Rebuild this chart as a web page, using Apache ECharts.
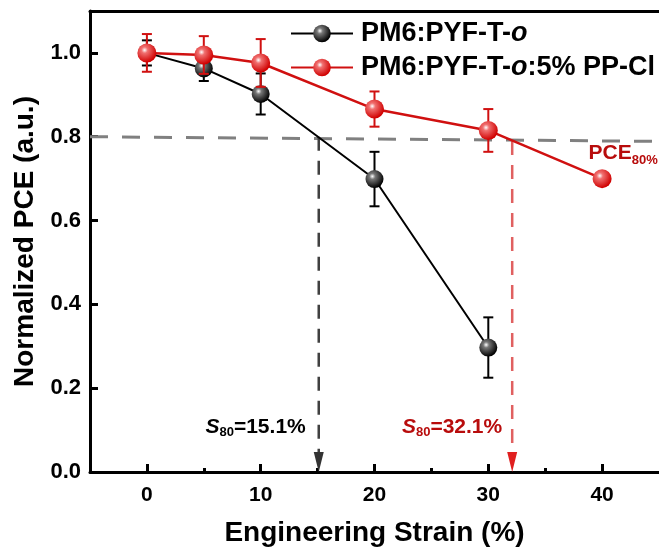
<!DOCTYPE html>
<html>
<head>
<meta charset="utf-8">
<script src="https://cdn.jsdelivr.net/npm/echarts@6/dist/echarts.min.js"></script>
<style>
html,body{margin:0;padding:0;background:#fff;}
#chart{width:659px;height:552px;}
</style>
</head>
<body>
<div id="chart"></div>
<script>
// ---- data ----
const strain = [0, 5, 10, 20, 30];
const blackY = [1.0, 0.963, 0.902, 0.699, 0.297];
const blackErr = [0.03, 0.03, 0.049, 0.065, 0.072];
const strainRed = [0, 5, 10, 20, 30, 40];
const redY = [1.0, 0.995, 0.976, 0.866, 0.815, 0.70];
const redErr = [0.045, 0.045, 0.057, 0.042, 0.051, 0];
const xTicks = [0, 10, 20, 30, 40];
const xMinorTicks = [5, 15, 25, 35];
const yTicks = [0, 0.2, 0.4, 0.6, 0.8, 1.0];
const pce80Level = [[-5, 0.8], [45, 0.789]];
const s80Black = 15.1;
const s80Red = 32.1;
const s80BlackTop = 0.8;
const s80RedTop = 0.79;
const seriesNames = ['PM6:PYF-T-o', 'PM6:PYF-T-o:5% PP-Cl'];

const FONT = '"Liberation Sans", Arial, sans-serif';
const RED = '#D01010';
const DARKRED = '#B80C0C';

function ball(base, mid) {
  return {
    type: 'radial', x: 0.38, y: 0.35, r: 0.65,
    colorStops: [
      {offset: 0, color: '#ffffff'},
      {offset: 0.25, color: mid},
      {offset: 1, color: base}
    ]
  };
}
const blackBall = ball('#000000', '#777777');
const redBall = ball('#D00000', '#F07070');

function errData(xs, ys, es) {
  const out = [];
  for (let i = 0; i < xs.length; i++) {
    if (es[i] > 0) out.push([xs[i], ys[i] - es[i], ys[i] + es[i]]);
  }
  return out;
}
function errRender(color) {
  return function (params, api) {
    const x = api.value(0), lo = api.value(1), hi = api.value(2);
    const p1 = api.coord([x, hi]), p2 = api.coord([x, lo]);
    const hw = 5;
    const st = {stroke: color, lineWidth: 2};
    return {type: 'group', children: [
      {type: 'line', shape: {x1: p1[0], y1: p1[1], x2: p2[0], y2: p2[1]}, style: st},
      {type: 'line', shape: {x1: p1[0] - hw, y1: p1[1], x2: p1[0] + hw, y2: p1[1]}, style: st},
      {type: 'line', shape: {x1: p2[0] - hw, y1: p2[1], x2: p2[0] + hw, y2: p2[1]}, style: st}
    ]};
  };
}

function s80Label(value, color, dist) {
  return {
    show: true, position: 'left', distance: dist, offset: [0, -35],
    formatter: '{i|S}{s|80}{n|=' + value + '%}',
    rich: {
      i: {fontFamily: FONT, fontSize: 21, fontWeight: 'bold', fontStyle: 'italic', color: color, lineHeight: 24},
      s: {fontFamily: FONT, fontSize: 13, fontWeight: 'bold', color: color, lineHeight: 13, verticalAlign: 'bottom'},
      n: {fontFamily: FONT, fontSize: 21, fontWeight: 'bold', color: color, lineHeight: 24}
    }
  };
}

const chart = echarts.init(document.getElementById('chart'), null, {renderer: 'canvas'});

const option = {
  backgroundColor: '#ffffff',
  animation: false,
  textStyle: {fontFamily: FONT},
  grid: {left: 90, right: -3, top: 11, bottom: 79, containLabel: false},
  legend: {
    data: seriesNames,
    orient: 'vertical',
    left: 290,
    top: 20,
    padding: 0,
    itemWidth: 62,
    itemHeight: 22,
    itemGap: 7,
    selectedMode: false,
    formatter: function (name) {
      if (name === seriesNames[0]) return '{b|PM6:PYF-T-}{i|o}';
      return '{b|PM6:PYF-T-}{i|o}{b|:5% PP-Cl}';
    },
    textStyle: {
      fontFamily: FONT, fontSize: 27, fontWeight: 'bold', color: '#000', lineHeight: 27,
      padding: [0, 0, 0, 3],
      rich: {
        b: {fontFamily: FONT, fontSize: 27, fontWeight: 'bold', color: '#000', lineHeight: 27},
        i: {fontFamily: FONT, fontSize: 27, fontWeight: 'bold', fontStyle: 'italic', color: '#000', lineHeight: 27}
      }
    }
  },
  xAxis: [
    {
      type: 'value', min: -5, max: 45,
      name: 'Engineering Strain (%)', nameLocation: 'middle', nameGap: 47,
      nameTextStyle: {fontFamily: FONT, fontSize: 28, fontWeight: 'bold', color: '#000'},
      axisLine: {show: true, onZero: false, lineStyle: {color: '#000', width: 3}},
      axisTick: {show: true, inside: true, length: 8, lineStyle: {color: '#000', width: 3}, customValues: xTicks},
      axisLabel: {show: true, margin: 13, fontFamily: FONT, fontSize: 21, fontWeight: 'bold', color: '#000', customValues: xTicks},
      splitLine: {show: false}
    },
    {
      type: 'value', min: -5, max: 45, position: 'bottom',
      axisLine: {show: false},
      axisTick: {show: true, inside: true, length: 4, lineStyle: {color: '#000', width: 3}, customValues: xMinorTicks},
      axisLabel: {show: false},
      splitLine: {show: false}
    },
    {
      type: 'value', min: -5, max: 45, position: 'top',
      axisLine: {show: true, onZero: false, lineStyle: {color: '#000', width: 3}},
      axisTick: {show: false},
      axisLabel: {show: false},
      splitLine: {show: false}
    }
  ],
  yAxis: [
    {
      type: 'value', min: 0, max: 1.1,
      name: 'Normalized PCE (a.u.)', nameLocation: 'middle', nameGap: 45, nameRotate: 90,
      nameTextStyle: {fontFamily: FONT, fontSize: 28, fontWeight: 'bold', color: '#000'},
      axisLine: {show: true, onZero: false, lineStyle: {color: '#000', width: 3}},
      axisTick: {show: true, inside: true, length: 8, lineStyle: {color: '#000', width: 3}, customValues: yTicks},
      axisLabel: {show: true, margin: 9, fontFamily: FONT, fontSize: 22, fontWeight: 'bold', color: '#000',
        customValues: yTicks, formatter: v => v.toFixed(1)},
      splitLine: {show: false}
    }
  ],
  series: [
    {
      name: 'pce80', type: 'line', data: pce80Level, symbol: 'none', silent: true, z: 1,
      lineStyle: {color: '#808080', width: 3, type: [18, 14]}
    },
    {
      name: 's80b', type: 'line', data: [[s80Black, s80BlackTop], [s80Black, 0.03]], symbol: 'none', silent: true, z: 1,
      lineStyle: {color: '#404040', width: 2.5, type: [14, 10]}
    },
    {
      name: 's80r', type: 'line', data: [[s80Red, s80RedTop], [s80Red, 0.03]], symbol: 'none', silent: true, z: 1,
      lineStyle: {color: '#E06060', width: 2.5, type: [14, 10]}
    },
    {
      name: 'arrowB', type: 'scatter', data: [[s80Black, 0]], symbol: 'triangle', symbolRotate: 180,
      symbolSize: [10, 20], symbolOffset: [0, -10], silent: true, z: 2,
      itemStyle: {color: '#333333', opacity: 1},
      label: s80Label(s80Black, '#000000', 8)
    },
    {
      name: 'arrowR', type: 'scatter', data: [[s80Red, 0]], symbol: 'triangle', symbolRotate: 180,
      symbolSize: [10, 20], symbolOffset: [0, -10], silent: true, z: 2,
      itemStyle: {color: '#E02020', opacity: 1},
      label: s80Label(s80Red, DARKRED, 5)
    },
    {
      name: 'errB', type: 'custom', renderItem: errRender('#000000'),
      data: errData(strain, blackY, blackErr), encode: {x: 0, y: [1, 2]}, silent: true, z: 3
    },
    {
      name: seriesNames[0], type: 'line', data: strain.map((x, i) => [x, blackY[i]]),
      symbol: 'circle', symbolSize: 18, z: 4,
      lineStyle: {color: '#000', width: 2},
      itemStyle: {color: blackBall, borderWidth: 0},
      emphasis: {disabled: true}
    },
    {
      name: 'errR', type: 'custom', renderItem: errRender('#D01010'),
      data: errData(strainRed, redY, redErr), encode: {x: 0, y: [1, 2]}, silent: true, z: 5
    },
    {
      name: seriesNames[1], type: 'line', data: strainRed.map((x, i) => [x, redY[i]]),
      symbol: 'circle', symbolSize: 19, z: 6,
      lineStyle: {color: RED, width: 2.5},
      itemStyle: {color: redBall, borderWidth: 0},
      emphasis: {disabled: true},
      markPoint: {
        silent: true, symbol: 'circle', symbolSize: 1, itemStyle: {color: 'rgba(0,0,0,0)'},
        data: [{coord: [strainRed[5], redY[5]],
          label: {
            show: true, position: 'inside', offset: [21, -25],
            formatter: '{a|PCE}{s|80%}',
            rich: {
              a: {fontFamily: FONT, fontSize: 21, fontWeight: 'bold', color: DARKRED, lineHeight: 26},
              s: {fontFamily: FONT, fontSize: 13, fontWeight: 'bold', color: DARKRED, lineHeight: 13, verticalAlign: 'bottom'}
            }
          }}]
      }
    }
  ]
};
chart.setOption(option);
</script>
</body>
</html>
